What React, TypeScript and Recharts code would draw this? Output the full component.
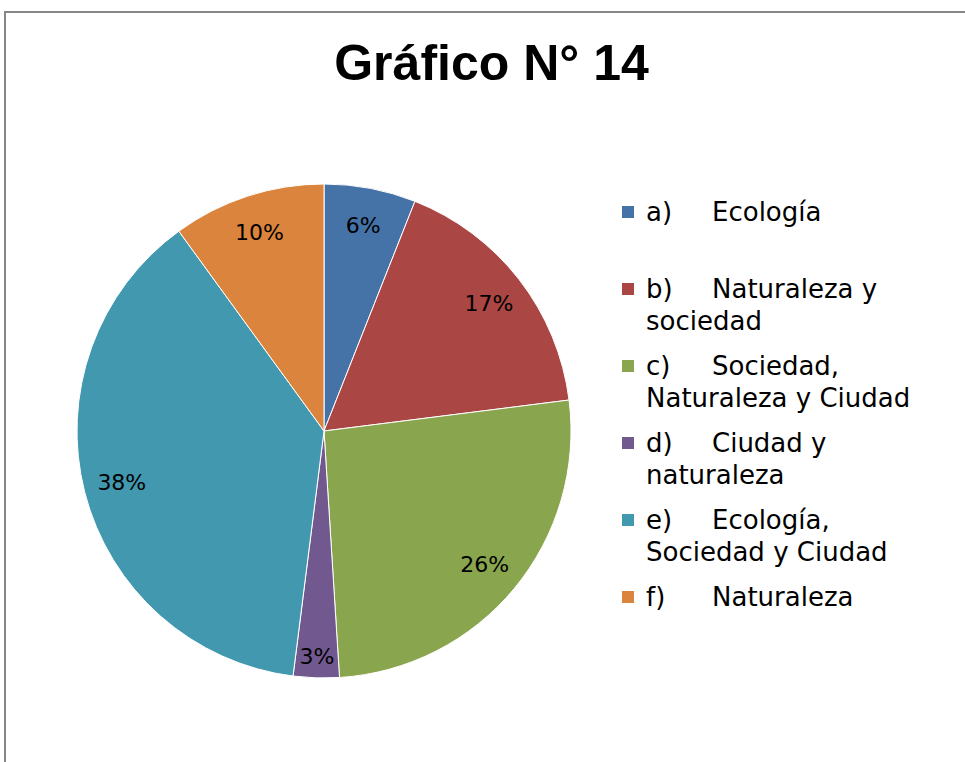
import React from 'react';
import { PieChart, Pie, Cell, Legend } from 'recharts';

const categories = [
  'a)\tEcología',
  'b)\tNaturaleza y sociedad',
  'c)\tSociedad, Naturaleza y Ciudad',
  'd)\tCiudad y naturaleza',
  'e)\tEcología, Sociedad y Ciudad',
  'f)\tNaturaleza',
];
const percents = [6, 17, 26, 3, 38, 10];
const colors = ['#4572A7', '#AA4643', '#89A54E', '#71588F', '#4198AF', '#DB843D'];

const data = categories.map((name, i) => ({ name, value: percents[i] }));

const RADIAN = Math.PI / 180;
const FONT = '"DejaVu Sans", sans-serif';

const renderLabel = ({ cx, cy, midAngle, outerRadius, value }: any) => {
  // small slices get pushed out a bit, like Excel's best fit
  const r = outerRadius * (value < 5 ? 0.915 : 0.845);
  const x = cx + r * Math.cos(-midAngle * RADIAN);
  const y = cy + r * Math.sin(-midAngle * RADIAN);
  return (
    <text x={x} y={y} fill="#000" fontSize={22} fontFamily={FONT} textAnchor="middle" dominantBaseline="central">
      {`${value}%`}
    </text>
  );
};

const renderLegend = ({ payload }: any) => (
  <div style={{ fontFamily: FONT, fontSize: 26, color: '#000' }}>
    {(payload || []).map((entry: any) => (
      <div key={entry.value} style={{ height: 77, display: 'flex', alignItems: 'flex-start' }}>
        <div style={{ width: 12, height: 12, marginTop: 10, marginRight: 12, background: entry.color, flex: 'none' }} />
        <div style={{ width: 285, lineHeight: '32px', whiteSpace: 'pre-wrap', tabSize: '66px' } as any}>
          {entry.value}
        </div>
      </div>
    ))}
  </div>
);

const App: React.FC = () => (
  <div style={{ position: 'absolute', left: 0, top: 0, width: 965, height: 762, overflow: 'hidden', background: '#fff' }}>
    <div style={{ position: 'absolute', left: 4, top: 11, width: 1100, height: 900, border: '2px solid #868686' }} />
    <div
      style={{
        position: 'absolute', left: 0, top: 30, width: 983, textAlign: 'center',
        fontFamily: '"Liberation Sans", Arial, sans-serif', fontWeight: 'bold', fontSize: 50, lineHeight: '66px', color: '#000',
      }}
    >
      Gráfico N° 14
    </div>
    <div style={{ position: 'absolute', left: 0, top: 0 }}>
      <PieChart width={965} height={762} margin={{ top: 0, right: 0, bottom: 0, left: 0 }}>
        <Pie
          data={data}
          dataKey="value"
          nameKey="name"
          cx={324}
          cy={431}
          outerRadius={247}
          startAngle={90}
          endAngle={-270}
          stroke="#fff"
          strokeWidth={1}
          label={renderLabel}
          labelLine={false}
          isAnimationActive={false}
        >
          {data.map((d, i) => <Cell key={d.name} fill={colors[i]} />)}
        </Pie>
        <Legend
          layout="vertical"
          content={renderLegend}
          wrapperStyle={{ position: 'absolute', left: 622, top: 196, width: 330 }}
        />
      </PieChart>
    </div>
  </div>
);

export default App;
